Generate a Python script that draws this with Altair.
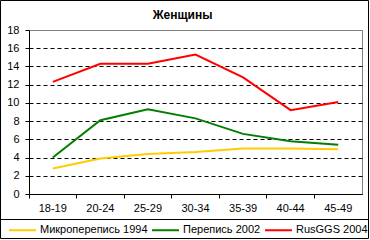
import altair as alt
import pandas as pd

categories = ["18-19", "20-24", "25-29", "30-34", "35-39", "40-44", "45-49"]
series_names = ["Микроперепись 1994", "Перепись 2002", "RusGGS 2004"]
micro_1994 = [2.8, 3.9, 4.4, 4.6, 5.0, 5.0, 4.9]
census_2002 = [4.0, 8.1, 9.3, 8.3, 6.6, 5.8, 5.4]
rusggs_2004 = [12.3, 14.3, 14.3, 15.3, 12.8, 9.2, 10.1]
colors = ["#FFCC00", "#008000", "#FF0000"]
y_ticks = [0, 2, 4, 6, 8, 10, 12, 14, 16, 18]
chart_title = "Женщины"

rows = []
for name, vals in zip(series_names, [micro_1994, census_2002, rusggs_2004]):
    for c, v in zip(categories, vals):
        rows.append({"age": c, "series": name, "value": v})
df = pd.DataFrame(rows)

FONT = "Liberation Sans"

lines = alt.Chart(df).mark_line(strokeWidth=2).encode(
    x=alt.X("age:N", sort=categories,
            scale=alt.Scale(type="band", paddingInner=0, paddingOuter=0),
            axis=alt.Axis(title=None, bandPosition=0, labelAngle=0, tickSize=4,
                          domainColor="black", tickColor="black", labelColor="black",
                          labelFont=FONT, labelFontSize=11, labelPadding=4, grid=False)),
    y=alt.Y("value:Q", scale=alt.Scale(domain=[0, 18], nice=False, zero=True),
            axis=alt.Axis(title=None, values=y_ticks, tickSize=4, domainColor="black",
                          tickColor="black", labelColor="black", labelFont=FONT,
                          labelFontSize=11, labelPadding=6, grid=True,
                          gridColor={"condition": {"test": "datum.value == 18", "value": "#808080"}, "value": "black"},
                          gridDash={"condition": {"test": "datum.value == 18", "value": []}, "value": [4, 3]},
                          gridWidth=1)),
    color=alt.Color("series:N", sort=series_names,
                    scale=alt.Scale(domain=series_names, range=colors),
                    legend=alt.Legend(title=None, orient="none", direction="horizontal",
                                      legendX=-21, legendY=185.5, symbolType="stroke",
                                      symbolSize=729, symbolStrokeWidth=2, labelFont=FONT,
                                      labelFontSize=11, labelColor="black", labelOffset=3,
                                      columnPadding=0, padding=0)),
)

frame_df = pd.DataFrame({"k": [0]})
outer = alt.Chart(frame_df).mark_rect(fillOpacity=0, stroke="black", strokeWidth=1).encode(
    x=alt.value(-28.5), x2=alt.value(339.5), y=alt.value(-29.5), y2=alt.value(208.5)
)
legend_line = alt.Chart(frame_df).mark_rule(color="black", strokeWidth=1).encode(
    x=alt.value(-28.5), x2=alt.value(339.5), y=alt.value(189.5)
)
title_text = alt.Chart(frame_df).mark_text(
    font=FONT, fontSize=12, fontWeight="bold", color="black",
    align="center", baseline="middle"
).encode(x=alt.value(153.5), y=alt.value(-15), text=alt.value(chart_title))

chart = alt.layer(lines, outer, legend_line, title_text).properties(
    width=333, height=164,
    padding={"left": 29, "top": 30, "right": 8, "bottom": 46},
    autosize=alt.AutoSizeParams(type="none"),
    background="white",
).configure_view(stroke="#808080", strokeWidth=1)

chart.save("out.html", embed_options={"renderer": "svg", "actions": False})
